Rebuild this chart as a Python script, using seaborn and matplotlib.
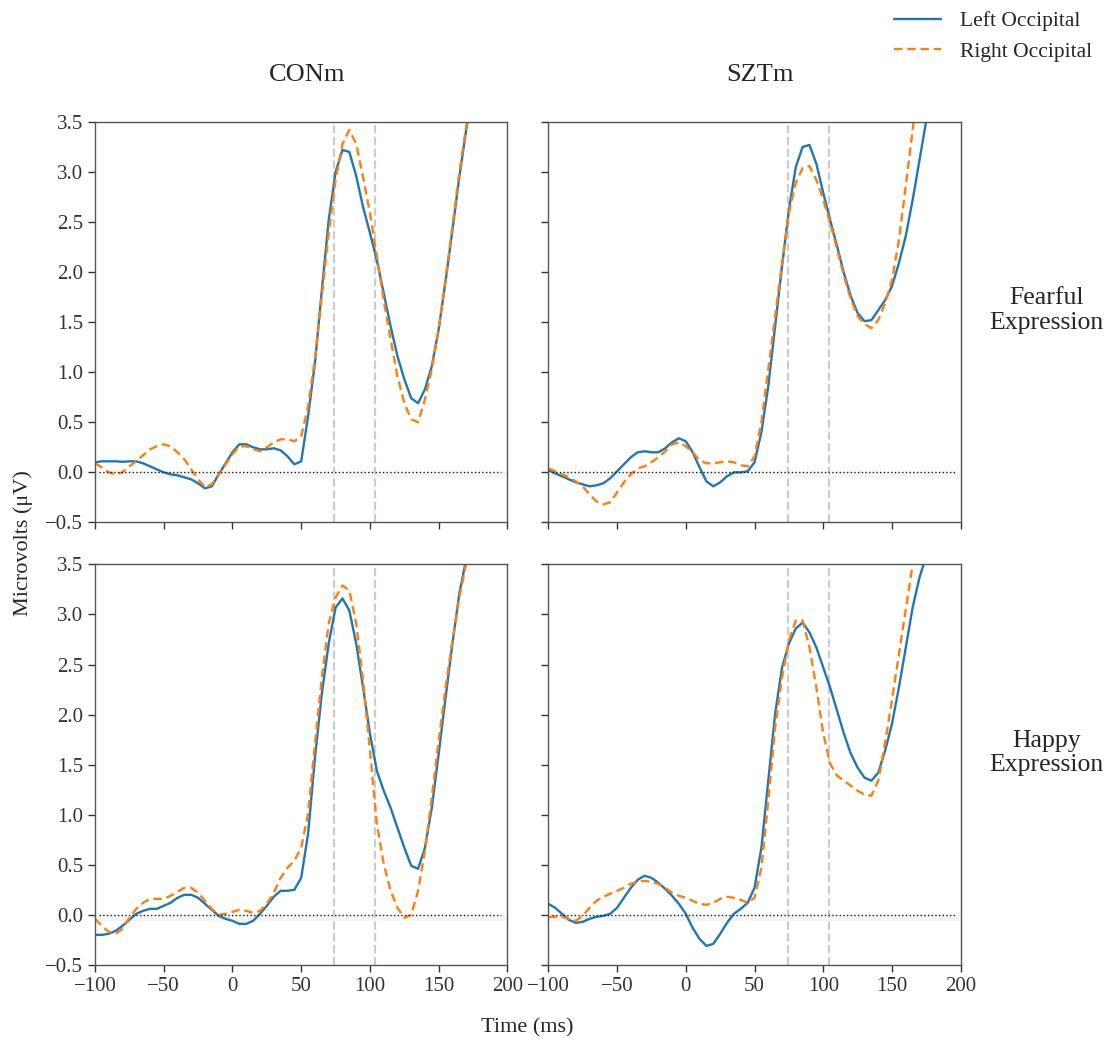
import numpy as np
import pandas as pd
import matplotlib
matplotlib.use("Agg")
import matplotlib.pyplot as plt
import seaborn as sns

# ---- data (5 ms steps) ----
time_ms = list(range(-100, 180, 5))

con_fear_left = [0.10, 0.11, 0.11, 0.11, 0.105, 0.11, 0.11, 0.09, 0.06, 0.03, 0.0, -0.02, -0.03, -0.05,
                 -0.07, -0.11, -0.16, -0.14, -0.02, 0.09, 0.20, 0.28, 0.28, 0.25, 0.23, 0.23, 0.24, 0.22,
                 0.16, 0.08, 0.11, 0.56, 1.09, 1.82, 2.52, 3.00, 3.22, 3.20, 2.96, 2.65, 2.39, 2.12, 1.79,
                 1.46, 1.16, 0.93, 0.74, 0.69, 0.83, 1.06, 1.43, 1.91, 2.42, 2.95, 3.42, 3.85]
con_fear_right = [0.09, 0.05, 0.0, -0.02, 0.0, 0.06, 0.11, 0.17, 0.23, 0.26, 0.28, 0.26, 0.20, 0.13,
                  0.03, -0.07, -0.15, -0.12, -0.02, 0.08, 0.18, 0.26, 0.26, 0.23, 0.21, 0.25, 0.30, 0.33,
                  0.33, 0.31, 0.36, 0.66, 1.13, 1.76, 2.39, 2.92, 3.28, 3.42, 3.28, 2.95, 2.59, 2.16, 1.72,
                  1.33, 0.96, 0.69, 0.53, 0.50, 0.73, 1.03, 1.43, 1.93, 2.46, 2.99, 3.45, 3.90]

szt_fear_left = [0.02, -0.01, -0.04, -0.07, -0.10, -0.12, -0.14, -0.13, -0.11, -0.06, 0.01, 0.08, 0.15,
                 0.20, 0.21, 0.20, 0.20, 0.24, 0.30, 0.34, 0.31, 0.20, 0.05, -0.09, -0.14, -0.10, -0.04,
                 0.0, 0.0, 0.01, 0.10, 0.40, 0.86, 1.46, 2.06, 2.62, 3.05, 3.25, 3.27, 3.08, 2.79, 2.52,
                 2.26, 1.99, 1.76, 1.59, 1.51, 1.52, 1.62, 1.72, 1.86, 2.09, 2.36, 2.72, 3.12, 3.52]
szt_fear_right = [0.04, 0.01, -0.02, -0.05, -0.09, -0.14, -0.22, -0.29, -0.32, -0.30, -0.20, -0.10,
                  -0.02, 0.04, 0.06, 0.10, 0.15, 0.21, 0.28, 0.30, 0.26, 0.20, 0.12, 0.09, 0.09, 0.10,
                  0.11, 0.10, 0.07, 0.06, 0.16, 0.50, 1.03, 1.56, 2.09, 2.59, 2.89, 3.04, 3.06, 2.92,
                  2.72, 2.49, 2.23, 1.96, 1.73, 1.56, 1.48, 1.44, 1.52, 1.69, 1.92, 2.32, 2.86, 3.42,
                  3.95, 4.40]

con_happy_left = [-0.20, -0.20, -0.19, -0.16, -0.11, -0.05, 0.01, 0.04, 0.06, 0.06, 0.09, 0.12, 0.17,
                  0.20, 0.20, 0.17, 0.11, 0.05, -0.01, -0.04, -0.06, -0.09, -0.09, -0.06, 0.01, 0.09,
                  0.18, 0.24, 0.24, 0.25, 0.37, 0.81, 1.57, 2.21, 2.71, 3.07, 3.16, 3.04, 2.71, 2.27,
                  1.81, 1.44, 1.24, 1.07, 0.87, 0.67, 0.49, 0.46, 0.67, 1.07, 1.61, 2.17, 2.71, 3.21,
                  3.55, 3.90]
con_happy_right = [-0.04, -0.11, -0.17, -0.19, -0.14, -0.03, 0.06, 0.12, 0.16, 0.16, 0.16, 0.19, 0.23,
                   0.27, 0.27, 0.22, 0.14, 0.06, 0.0, 0.01, 0.03, 0.05, 0.04, 0.02, 0.04, 0.11, 0.22,
                   0.37, 0.47, 0.54, 0.67, 1.01, 1.71, 2.37, 2.91, 3.17, 3.29, 3.24, 2.91, 2.34, 1.64,
                   0.91, 0.51, 0.24, 0.07, -0.03, 0.0, 0.24, 0.64, 1.17, 1.74, 2.27, 2.74, 3.17, 3.51,
                   3.90]

szt_happy_left = [0.11, 0.07, 0.01, -0.05, -0.08, -0.07, -0.04, -0.02, -0.01, 0.01, 0.07, 0.17, 0.27,
                  0.35, 0.39, 0.37, 0.32, 0.26, 0.19, 0.11, 0.01, -0.13, -0.24, -0.31, -0.29, -0.19,
                  -0.08, 0.01, 0.06, 0.12, 0.27, 0.67, 1.34, 2.01, 2.47, 2.71, 2.86, 2.92, 2.82, 2.67,
                  2.47, 2.27, 2.04, 1.81, 1.61, 1.47, 1.37, 1.34, 1.42, 1.64, 1.91, 2.27, 2.67, 3.07,
                  3.37, 3.59]
szt_happy_right = [-0.02, -0.02, -0.02, -0.04, -0.06, -0.01, 0.07, 0.14, 0.18, 0.21, 0.24, 0.27, 0.31,
                   0.33, 0.34, 0.33, 0.31, 0.27, 0.22, 0.19, 0.17, 0.14, 0.11, 0.10, 0.12, 0.16, 0.18,
                   0.17, 0.15, 0.12, 0.17, 0.47, 1.14, 1.87, 2.37, 2.74, 2.94, 2.94, 2.67, 2.27, 1.81,
                   1.51, 1.39, 1.34, 1.29, 1.24, 1.20, 1.19, 1.34, 1.72, 2.15, 2.60, 3.05, 3.50, 3.95,
                   4.40]

groups = ["CONm", "SZTm"]
expressions = ["Fearful\nExpression", "Happy\nExpression"]
channels = ["Left Occipital", "Right Occipital"]
marker_lines = [74, 104]

series = {
    ("CONm", "Fearful\nExpression"): (con_fear_left, con_fear_right),
    ("SZTm", "Fearful\nExpression"): (szt_fear_left, szt_fear_right),
    ("CONm", "Happy\nExpression"): (con_happy_left, con_happy_right),
    ("SZTm", "Happy\nExpression"): (szt_happy_left, szt_happy_right),
}

rows = []
for (grp, expr), (left, right) in series.items():
    for ch, vals in zip(channels, (left, right)):
        for t, v in zip(time_ms, vals):
            rows.append({"group": grp, "expression": expr, "channel": ch, "time": t, "uV": v})
df = pd.DataFrame(rows)

# ---- plotting ----
sns.set_theme(style="ticks")
plt.rcParams["font.family"] = ["Liberation Serif", "DejaVu Serif"]
plt.rcParams["axes.edgecolor"] = "#555555"
plt.rcParams["xtick.color"] = "#333333"
plt.rcParams["ytick.color"] = "#333333"

fig, axes = plt.subplots(2, 2, figsize=(11.12, 10.42), dpi=100, sharex=True, sharey=True)
fig.subplots_adjust(left=0.0854, right=0.864, top=0.883, bottom=0.074, wspace=0.099, hspace=0.105)

palette = {"Left Occipital": "#1f77b4", "Right Occipital": "#ff7f0e"}
dashes = {"Left Occipital": "", "Right Occipital": (3.6, 2)}

for i, expr in enumerate(expressions):
    for j, grp in enumerate(groups):
        ax = axes[i, j]
        sub = df[(df.group == grp) & (df.expression == expr)]
        ax.axhspan(-0.06, 0, color="0.93", alpha=0.6, lw=0)
        sns.lineplot(data=sub, x="time", y="uV", hue="channel", style="channel",
                     palette=palette, dashes=dashes, linewidth=1.7, ax=ax)
        for line in ax.get_lines():
            line.set_solid_joinstyle("round")
            line.set_dash_joinstyle("round")
        for xv in marker_lines:
            ax.axvline(xv, color="#cccccc", ls="--", lw=1.6, zorder=0)
        ax.axhline(0, xmin=0.01, xmax=0.985, color="k", ls=":", lw=1)
        ax.set_xlim(-100, 200)
        ax.set_ylim(-0.5, 3.5)
        ax.set_xticks(np.arange(-100, 201, 50))
        ax.set_yticks(np.arange(-0.5, 3.51, 0.5))
        ax.tick_params(labelsize=15, length=5, width=1)
        ax.set_xlabel("")
        ax.set_ylabel("")
        for sp in ax.spines.values():
            sp.set_linewidth(1)
        if i == 0 and j == 0:
            handles, labels = ax.get_legend_handles_labels()
        ax.get_legend().remove()

for j, grp in enumerate(groups):
    pos = axes[0, j].get_position()
    fig.text((pos.x0 + pos.x1) / 2 + 0.005, 0.928, grp, ha="center", va="center", fontsize=19)

for i, expr in enumerate(expressions):
    pos = axes[i, 1].get_position()
    fig.text(0.941, (pos.y0 + pos.y1) / 2 + 0.011, expr, ha="center", va="center",
             multialignment="center", fontsize=18.5, linespacing=1.15)

fig.text(0.021, 0.479, "Microvolts (\u03bcV)", rotation=90, ha="center", va="center", fontsize=16)
fig.text(0.474, 0.014, "Time (ms)", ha="center", va="center", fontsize=16)

fig.legend(handles, labels, loc="upper right", bbox_to_anchor=(1.0, 1.008), frameon=False,
           fontsize=15.5, handlelength=2.2, handletextpad=0.9)

fig.savefig("out.png", dpi=100)
